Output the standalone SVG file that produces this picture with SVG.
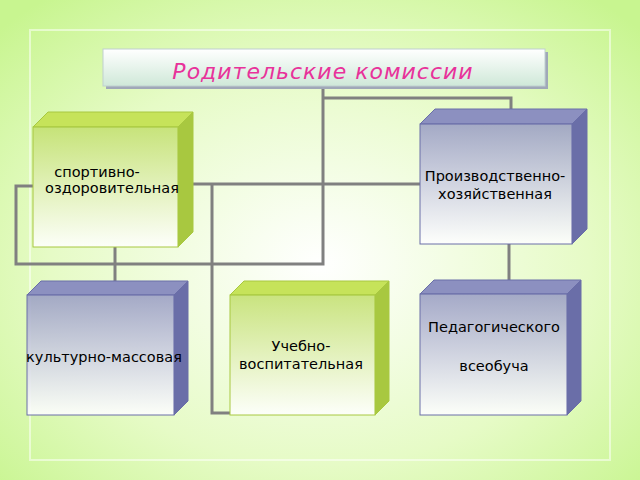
<svg xmlns="http://www.w3.org/2000/svg" width="640" height="480" viewBox="0 0 640 480">
<defs>
<radialGradient id="bg" cx="0.5" cy="0.55" r="0.7"><stop offset="0" stop-color="#ffffff"/><stop offset="0.6" stop-color="#e6fbc6"/><stop offset="1" stop-color="#c8f590"/></radialGradient>
<linearGradient id="gf" x1="0" y1="0" x2="0" y2="1"><stop offset="0" stop-color="#c3e070"/><stop offset="1" stop-color="#ffffff"/></linearGradient>
<linearGradient id="bf" x1="0" y1="0" x2="0" y2="1"><stop offset="0" stop-color="#9a9ec4"/><stop offset="1" stop-color="#ffffff"/></linearGradient>
<linearGradient id="tf" x1="0" y1="0" x2="0" y2="1"><stop offset="0" stop-color="#ffffff"/><stop offset="1" stop-color="#cfe8d8"/></linearGradient>
</defs>
<style>
.c{fill:none;stroke:#808080;stroke-width:3}
.gfr{fill:url(#gf);fill-opacity:0.88;stroke:#a8c840;stroke-width:1}
.gtop{fill:#c6e35a;stroke:#a8c840}
.gside{fill:#a8c840;stroke:#a8c840}
.bfr{fill:url(#bf);fill-opacity:0.88;stroke:#6a6ea8;stroke-width:1}
.btop{fill:#8c90c0;stroke:#6a6ea8}
.bside{fill:#6a6ea8;stroke:#6a6ea8}
text{font-family:"DejaVu Sans",sans-serif;font-size:14.5px;fill:#000;text-anchor:middle}
</style>
<rect width="640" height="480" fill="url(#bg)"/>
<rect x="30" y="30" width="580" height="430" fill="none" stroke="#ffffff" stroke-opacity="0.5" stroke-width="2"/>
<g id="connectors">
<path class="c" d="M323,87 V264 H16 V186 H33"/>
<path class="c" d="M323,98 H511 V124"/>
<path class="c" d="M190,184 H420"/>
<path class="c" d="M212,184 V413 H230"/>
<path class="c" d="M115,247 V294"/>
<path class="c" d="M509,244 V294"/>
</g>
<g id="title">
<rect x="106" y="52" width="442" height="37" fill="#a0a8b8"/>
<rect x="103" y="49" width="442" height="37" fill="url(#tf)" stroke="#c0d0d0"/>
<text x="323" y="79" style="font-size:22px;font-style:italic;fill:#e8329a;letter-spacing:1px">Родительские комиссии</text>
</g>
<g id="sport">
<polygon class="gtop" points="33,127 48,112 193,112 178,127"/>
<polygon class="gside" points="178,127 193,112 193,232 178,247"/>
<rect class="gfr" x="33" y="127" width="145" height="120"/>
<text x="97" y="177">спортивно-</text><text x="112" y="193">оздоровительная</text>
</g>
<g id="prod">
<polygon class="btop" points="420,124 435,109 587,109 572,124"/>
<polygon class="bside" points="572,124 587,109 587,229 572,244"/>
<rect class="bfr" x="420" y="124" width="152" height="120"/>
<text x="495" y="181">Производственно-</text><text x="495" y="199">хозяйственная</text>
</g>
<g id="culture">
<polygon class="btop" points="27,295 41,281 188,281 174,295"/>
<polygon class="bside" points="174,295 188,281 188,401 174,415"/>
<rect class="bfr" x="27" y="295" width="147" height="120"/>
<text x="104" y="362">культурно-массовая</text>
</g>
<g id="uchebno">
<polygon class="gtop" points="230,295 244,281 389,281 375,295"/>
<polygon class="gside" points="375,295 389,281 389,401 375,415"/>
<rect class="gfr" x="230" y="295" width="145" height="120"/>
<text x="301" y="351">Учебно-</text><text x="301" y="369">воспитательная</text>
</g>
<g id="ped">
<polygon class="btop" points="420,294 434,280 581,280 567,294"/>
<polygon class="bside" points="567,294 581,280 581,401 567,415"/>
<rect class="bfr" x="420" y="294" width="147" height="121"/>
<text x="494" y="332">Педагогического</text><text x="494" y="371">всеобуча</text>
</g>
</svg>
